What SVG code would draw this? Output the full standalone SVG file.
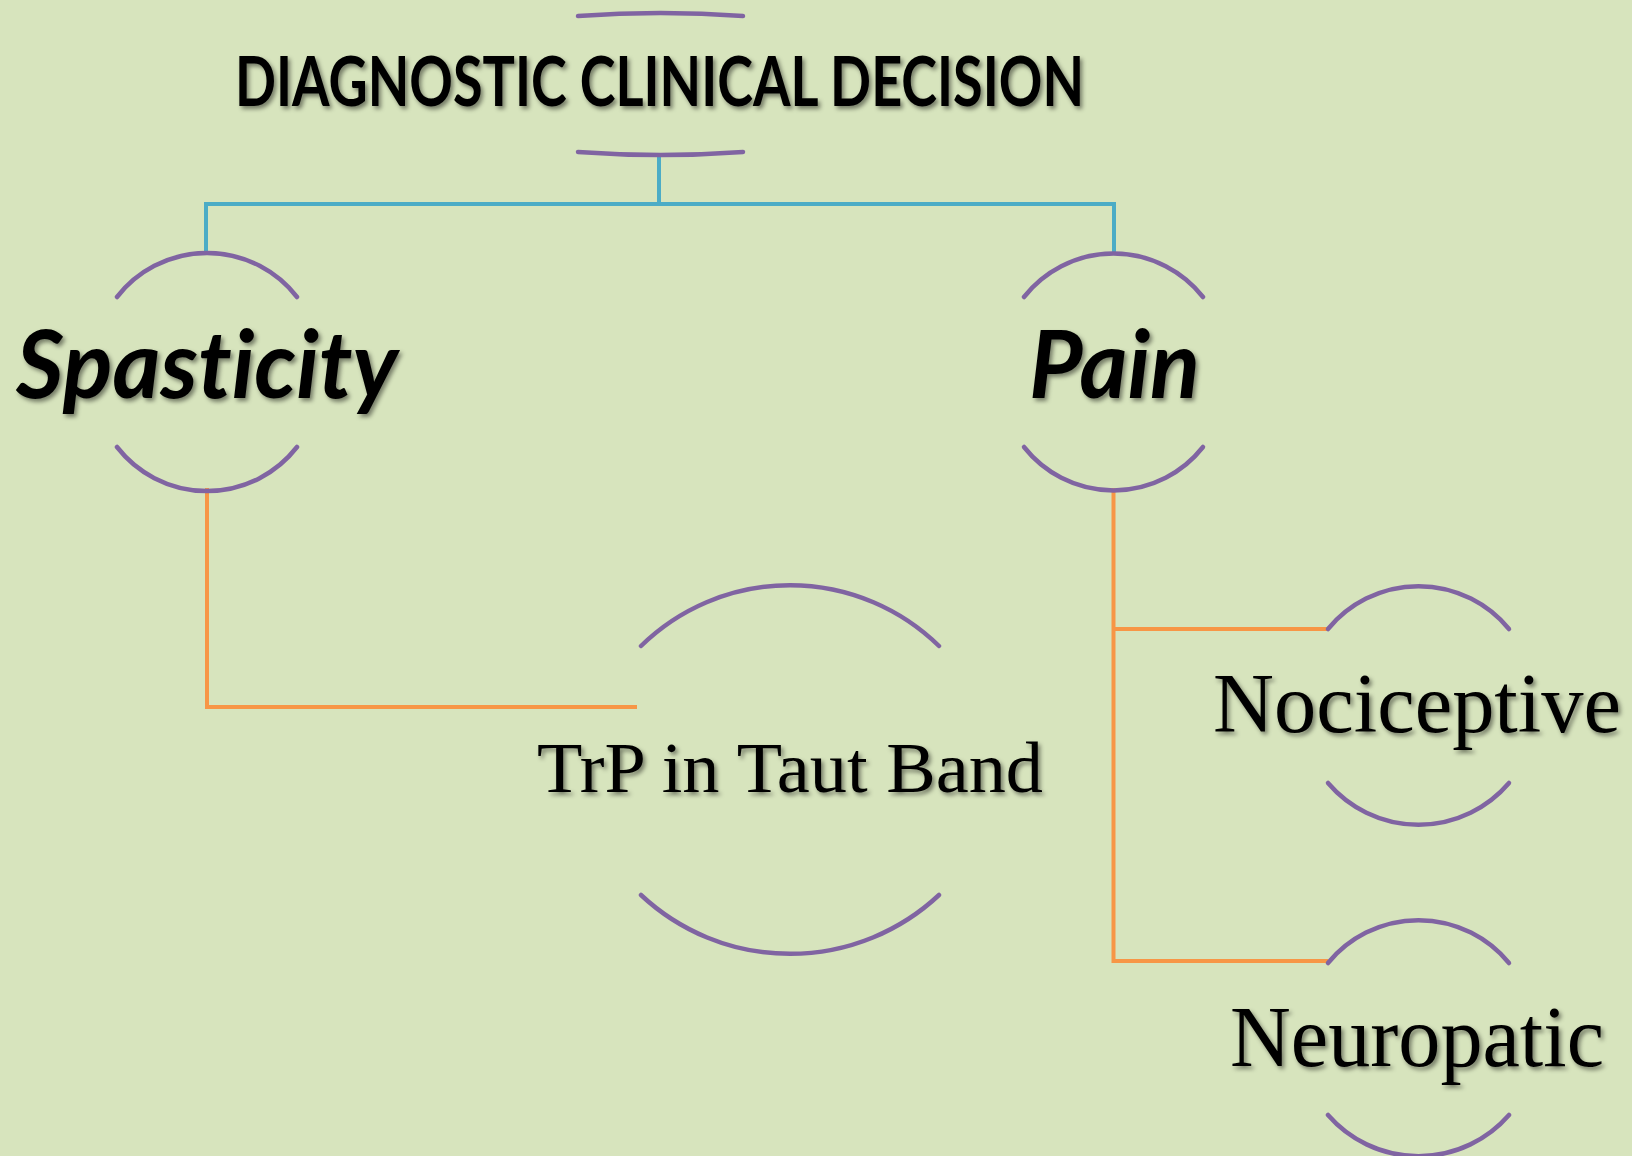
<svg xmlns="http://www.w3.org/2000/svg" width="1632" height="1156" viewBox="0 0 1632 1156">
<style>
.arc{fill:none;stroke:#8064A2;stroke-width:4.5;stroke-linecap:round}
.blue{fill:none;stroke:#4BACC6;stroke-width:4}
.orange{fill:none;stroke:#F79646;stroke-width:4}
.sans{font-family:Lato,"Open Sans","Liberation Sans",sans-serif;font-weight:bold;fill:#000;font-variant-ligatures:none;font-feature-settings:"liga" 0,"clig" 0}
.serif{font-family:"Liberation Serif","Times New Roman",serif;fill:#000}
.sh{filter:url(#shadow)}
</style>
<defs>
<filter id="shadow" x="-10%" y="-30%" width="120%" height="160%">
<feDropShadow dx="2.5" dy="3" stdDeviation="2" flood-color="#000" flood-opacity="0.45"/>
</filter>
</defs>
<rect width="1632" height="1156" fill="#D7E4BD"/>
<g id="connectors">
<path class="blue" d="M659,153 V204"/>
<path class="blue" d="M206,253 V204 H1114 V253"/>
<path class="orange" d="M207,488 V707 H637"/>
<path class="orange" d="M1113.5,488 V961 H1328"/>
<path class="orange" d="M1113.5,629 H1328"/>
</g>
<g id="node-root">
<path class="arc" d="M578,16 A1136,1136 0 0 1 743,16"/>
<path class="arc" d="M578,152 A1136,1136 0 0 0 743,152"/>
<text class="sans sh" x="235" y="106" font-size="68" textLength="849" lengthAdjust="spacingAndGlyphs">DIAGNOSTIC CLINICAL DECISION</text>
</g>
<g id="node-spasticity">
<path class="arc" d="M117,297 A114,114 0 0 1 297,297"/>
<path class="arc" d="M117,447 A114,114 0 0 0 297,447"/>
<text class="sans sh" x="16" y="398" font-size="93" font-style="italic" textLength="382" lengthAdjust="spacingAndGlyphs">Spasticity</text>
</g>
<g id="node-pain">
<path class="arc" d="M1024,297 A114,114 0 0 1 1203,297"/>
<path class="arc" d="M1024,447 A114,114 0 0 0 1203,447"/>
<text class="sans sh" x="1029" y="398" font-size="93" font-style="italic" textLength="171" lengthAdjust="spacingAndGlyphs">Pain</text>
</g>
<g id="node-trp">
<path class="arc" d="M641,646 A213,213 0 0 1 939,646"/>
<path class="arc" d="M641,895 A218,218 0 0 0 939,895"/>
<text class="serif sh" x="537" y="792" font-size="71" textLength="506" lengthAdjust="spacingAndGlyphs">TrP in Taut Band</text>
</g>
<g id="node-nociceptive">
<path class="arc" d="M1328,629 A117,117 0 0 1 1509,629"/>
<path class="arc" d="M1328,783 A119,119 0 0 0 1509,783"/>
<text class="serif sh" x="1213" y="732" font-size="85" textLength="408" lengthAdjust="spacingAndGlyphs">Nociceptive</text>
</g>
<g id="node-neuropatic">
<path class="arc" d="M1328,963 A117,117 0 0 1 1509,963"/>
<path class="arc" d="M1328,1115 A120,120 0 0 0 1509,1115"/>
<text class="serif sh" x="1230" y="1066" font-size="86" textLength="374" lengthAdjust="spacingAndGlyphs">Neuropatic</text>
</g>
</svg>
